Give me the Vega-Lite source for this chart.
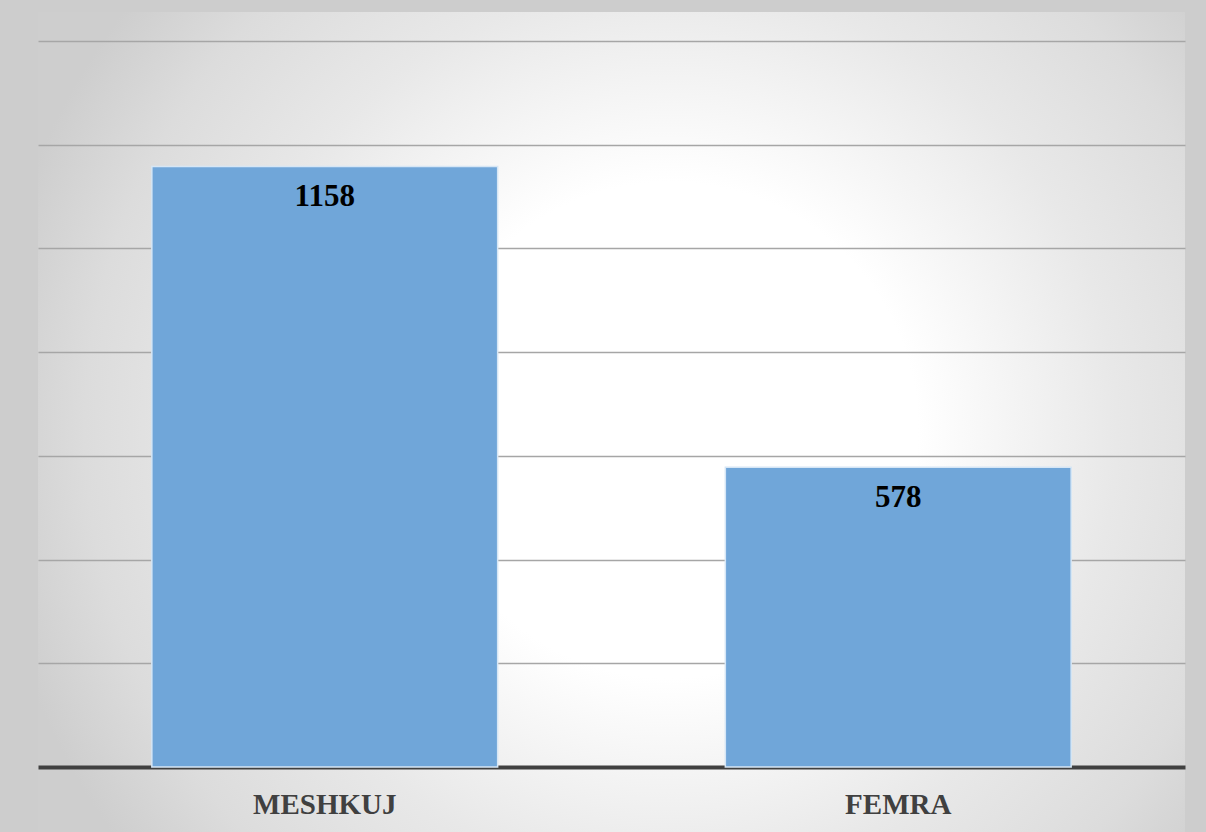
{
  "$schema": "https://vega.github.io/schema/vega-lite/v6.json",
  "width": 1147,
  "height": 820,
  "autosize": {"type": "none"},
  "padding": {"left": 38, "top": 12, "right": 21, "bottom": 0},
  "background": "#cdcdcd",
  "view": {
    "stroke": null,
    "fill": {
      "gradient": "radial",
      "x1": 0.551, "y1": 0.507, "r1": 0,
      "x2": 0.551, "y2": 0.507, "r2": 0.6,
      "stops": [
        {"offset": 0, "color": "#ffffff"},
        {"offset": 0.36, "color": "#ffffff"},
        {"offset": 0.55, "color": "#f0f0f0"},
        {"offset": 0.65, "color": "#e8e8e8"},
        {"offset": 0.85, "color": "#dcdcdc"},
        {"offset": 1, "color": "#cecece"}
      ]
    }
  },
  "data": {
    "values": [
      {"gjinia": "MESHKUJ", "numri": 1158},
      {"gjinia": "FEMRA", "numri": 578}
    ]
  },
  "encoding": {
    "x": {
      "field": "gjinia",
      "type": "nominal",
      "sort": null,
      "scale": {"paddingInner": 0, "paddingOuter": 0},
      "axis": {
        "title": null,
        "offset": -65,
        "labelAngle": 0,
        "labelFont": "Liberation Serif",
        "labelFontSize": 29,
        "labelFontWeight": "bold",
        "labelColor": "#404040",
        "labelPadding": 23,
        "ticks": false,
        "domainColor": "#404040",
        "domainWidth": 4,
        "grid": false
      }
    },
    "y": {
      "field": "numri",
      "type": "quantitative",
      "scale": {"domain": [-125.34, 1455.92], "nice": false, "zero": false},
      "axis": {
        "title": null,
        "labels": false,
        "ticks": false,
        "domain": false,
        "values": [200, 400, 600, 800, 1000, 1200, 1400],
        "gridColor": "#a6a6a6",
        "gridWidth": 1.5
      }
    }
  },
  "layer": [
    {
      "mark": {
        "type": "bar",
        "width": {"band": 0.603},
        "color": "#70a6d9",
        "stroke": "#d6e6f5",
        "strokeWidth": 1.5
      }
    },
    {
      "mark": {
        "type": "text",
        "baseline": "middle",
        "dy": 31,
        "font": "Liberation Serif",
        "fontSize": 31,
        "fontWeight": "bold",
        "color": "#000000"
      },
      "encoding": {
        "text": {"field": "numri", "type": "quantitative"}
      }
    }
  ]
}
